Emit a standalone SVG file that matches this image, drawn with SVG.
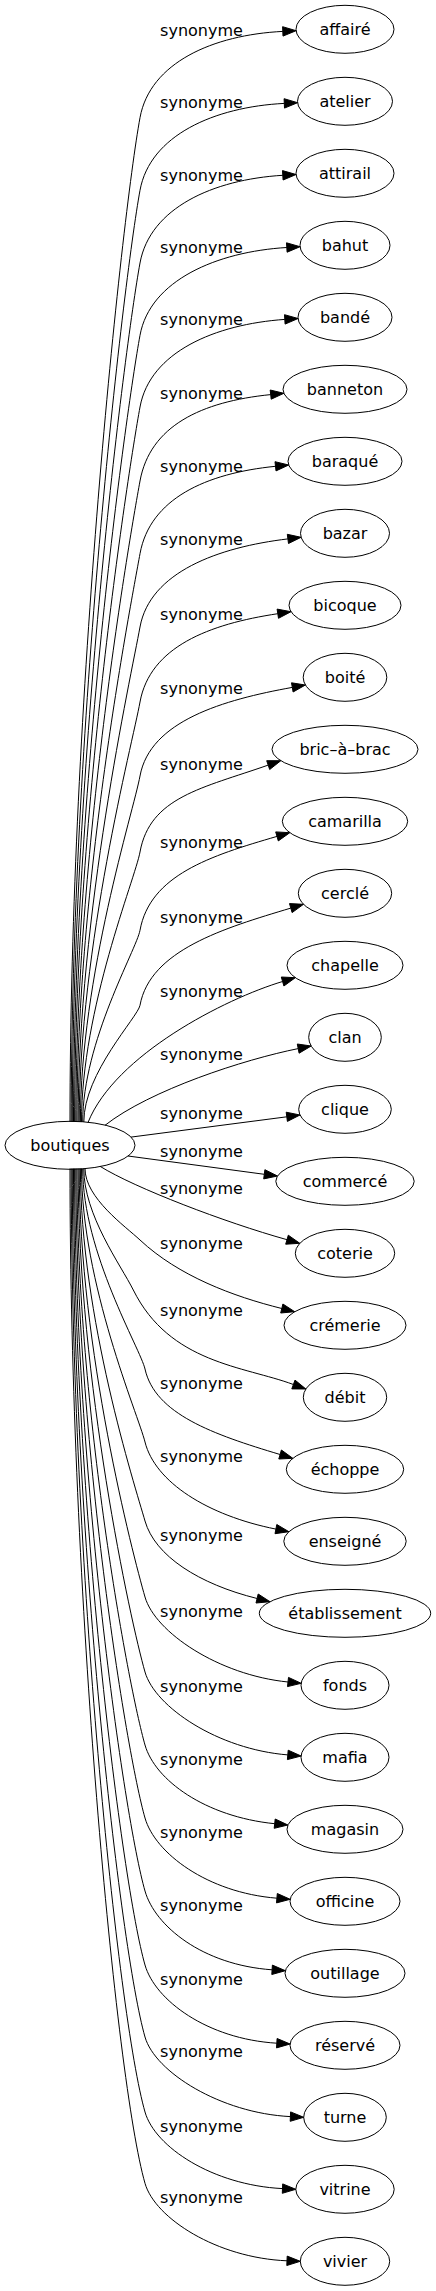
<svg xmlns="http://www.w3.org/2000/svg" width="436" height="2291" viewBox="0 0 436 2291">
<style>
text{font-family:"DejaVu Sans",Verdana,sans-serif;font-size:16px;fill:#000;text-anchor:middle}
.n ellipse{fill:none;stroke:#000;stroke-width:1}
.e path{fill:none;stroke:#000;stroke-width:1}
.e polygon{fill:#000;stroke:#000;stroke-width:1}
</style>
<rect width="436" height="2291" fill="#fff"/>
<g id="edges" class="e">
<g id="e0"><path d="M70,1122 C70,700.2 121.7,218.1 140,117.7 C150,62.7 212.9,34.9 282.8,31.4"/><polygon points="283,36.1 296.1,30.7 282.6,26.7"/><text x="201.5" y="35.7">synonyme</text></g>
<g id="e1"><path d="M71.2,1122 C71.2,730.7 123.1,283.5 140,190.3 C150,135.3 214.4,106.9 284.3,103.4"/><polygon points="284.5,108.1 297.6,102.7 284.1,98.7"/><text x="201.5" y="108.3">synonyme</text></g>
<g id="e2"><path d="M72.3,1122 C72.3,761.2 124.4,348.9 140,263 C150,208 212.9,179.5 282.8,175.3"/><polygon points="283.1,180 296.1,174.5 282.5,170.6"/><text x="201.5" y="181">synonyme</text></g>
<g id="e3"><path d="M73.5,1122 C73.5,791.6 125.7,414 140,335.3 C150,280.3 216.9,251.7 286.8,247.5"/><polygon points="287.1,252.2 300.1,246.7 286.5,242.8"/><text x="201.5" y="253.3">synonyme</text></g>
<g id="e4"><path d="M74.6,1122 C74.6,821.7 127,478.5 140,407 C150,352 215,324.3 284.8,319.4"/><polygon points="285.1,324.1 298.1,318.5 284.5,314.7"/><text x="201.5" y="325">synonyme</text></g>
<g id="e5"><path d="M75.8,1122 C75.8,852.8 128.3,545.1 140,481 C150,426 201,401.6 270.7,394.6"/><polygon points="271.2,399.2 283.9,393.3 270.2,390"/><text x="201.5" y="399">synonyme</text></g>
<g id="e6"><path d="M76.9,1122 C76.9,883.3 129.7,610.5 140,553.7 C150,498.7 205.8,473.3 275.5,466.3"/><polygon points="276,470.9 288.7,465 275,461.7"/><text x="201.5" y="471.7">synonyme</text></g>
<g id="e7"><path d="M78.1,1122 C78.1,914.1 131,676.5 140,627 C150,572 218.4,547.2 287.9,538.9"/><polygon points="288.5,543.5 301.1,537.3 287.3,534.3"/><text x="201.5" y="545">synonyme</text></g>
<g id="e8"><path d="M79.2,1122 C79.2,945.6 132.4,744 140,702 C150,647 208.6,624.1 277.8,613.7"/><polygon points="278.5,618.3 291,611.7 277.1,609.1"/><text x="201.5" y="620">synonyme</text></g>
<g id="e9"><path d="M80.4,1122 C80.4,976.7 133.7,810.6 140,776 C150,721 223.4,699.8 292.3,687.4"/><polygon points="293.1,692 305.4,685 291.5,682.8"/><text x="201.5" y="694">synonyme</text></g>
<g id="e10"><path d="M81.5,1122 C81.5,1008.6 135.1,879 140,852 C150,797 202.1,788.2 268.2,765.1"/><polygon points="269.7,769.5 280.8,760.7 266.7,760.7"/><text x="201.5" y="770">synonyme</text></g>
<g id="e11"><path d="M82.7,1122 C82.7,1041.5 136.5,949.5 140,930.3 C150,875.3 209.8,855.9 277,836.4"/><polygon points="278.3,840.9 289.8,832.7 275.7,831.9"/><text x="201.5" y="848.3">synonyme</text></g>
<g id="e12"><path d="M83.8,1122 C83.8,1073 137.9,1017 140,1005.3 C150,950.3 223.7,928.2 290.8,908.1"/><polygon points="292.1,912.6 303.5,904.3 289.5,903.6"/><text x="201.5" y="923.3">synonyme</text></g>
<g id="e13"><path d="M88,1122.5 C115,1055 225.1,998.7 282.6,981.5"/><polygon points="283.9,986 295.3,977.7 281.3,977"/><text x="201.5" y="997.3">synonyme</text></g>
<g id="e14"><path d="M105,1125.3 C150,1090 244.3,1059.4 298.2,1048.6"/><polygon points="299.1,1053.2 311.2,1046 297.3,1044"/><text x="201.5" y="1060">synonyme</text></g>
<g id="e15"><path d="M131,1137.1 C182.9,1130.3 234.9,1123.6 286.8,1116.8"/><polygon points="287.4,1121.4 300,1115 286.2,1112.2"/><text x="201.5" y="1119">synonyme</text></g>
<g id="e16"><path d="M128,1156 C173.4,1162.1 218.9,1168.2 264.3,1174.3"/><polygon points="263.7,1178.9 277.5,1176 264.9,1169.7"/><text x="201.5" y="1157">synonyme</text></g>
<g id="e17"><path d="M100,1166.3 C135,1188 224.4,1222.2 287,1239.7"/><polygon points="285.7,1244.2 299.8,1243.3 288.3,1235.2"/><text x="201.5" y="1194">synonyme</text></g>
<g id="e18"><path d="M85,1168.4 C85,1198 125.4,1226.3 140,1240 C178.4,1275.9 233,1296.4 281.8,1308.5"/><polygon points="280.7,1313 294.7,1311.7 282.9,1304"/><text x="201.5" y="1249">synonyme</text></g>
<g id="e19"><path d="M83.8,1168.5 C83.8,1215 120.8,1265 133.3,1290 C169.8,1363.4 243.8,1366.1 293.4,1384.5"/><polygon points="291.8,1388.9 305.9,1389 295,1380.1"/><text x="201.5" y="1316">synonyme</text></g>
<g id="e20"><path d="M82.7,1168.5 C82.7,1252.7 140.5,1349 145,1369 C155,1414 213,1434.4 280.1,1454.5"/><polygon points="278.8,1459 292.8,1458.3 281.4,1450"/><text x="201.5" y="1389">synonyme</text></g>
<g id="e21"><path d="M81.5,1168.5 C81.5,1283.4 138.2,1414.7 145,1442 C155,1482 207.3,1515.4 275.9,1529.1"/><polygon points="275,1533.7 288.9,1531.7 276.8,1524.5"/><text x="201.5" y="1462">synonyme</text></g>
<g id="e22"><path d="M80.4,1168.5 C80.4,1316.5 134.9,1485.8 145,1521 C155,1556 198.9,1584 257.1,1598.5"/><polygon points="256,1603 270,1601.7 258.2,1594"/><text x="201.5" y="1541">synonyme</text></g>
<g id="e23"><path d="M79.2,1168.5 C79.2,1348.5 132.7,1554.2 145,1597 C155,1632 218.3,1675 288,1682"/><polygon points="287.5,1686.6 301.2,1683.3 288.5,1677.4"/><text x="201.5" y="1617">synonyme</text></g>
<g id="e24"><path d="M78.1,1168.5 C78.1,1380 130.6,1621.7 145,1672 C155,1707 218,1749.3 287.8,1754.9"/><polygon points="287.4,1759.6 301.1,1756 288.2,1750.2"/><text x="201.5" y="1692">synonyme</text></g>
<g id="e25"><path d="M76.9,1168.5 C76.9,1410.6 128.5,1687.4 145,1745 C155,1780 205,1816.7 274.7,1823.7"/><polygon points="274.2,1828.3 287.9,1825 275.2,1819"/><text x="201.5" y="1765">synonyme</text></g>
<g id="e26"><path d="M75.8,1168.5 C75.8,1441.3 126.4,1753.1 145,1818 C155,1853 207.1,1892.6 276.9,1898.2"/><polygon points="276.5,1902.9 290.2,1899.3 277.3,1893.5"/><text x="201.5" y="1838">synonyme</text></g>
<g id="e27"><path d="M74.6,1168.5 C74.6,1472 124.3,1818.8 145,1891 C155,1926 202.3,1964.9 272.1,1969.8"/><polygon points="271.8,1974.5 285.4,1970.7 272.4,1965.1"/><text x="201.5" y="1911">synonyme</text></g>
<g id="e28"><path d="M73.5,1168.5 C73.5,1503 122.2,1885.4 145,1965 C155,2000 206.9,2039 276.8,2043.2"/><polygon points="276.5,2047.9 290.1,2044 277.1,2038.5"/><text x="201.5" y="1985">synonyme</text></g>
<g id="e29"><path d="M72.3,1168.5 C72.3,1533.3 120.2,1950.2 145,2037 C155,2072 220.5,2113.1 290.4,2116.6"/><polygon points="290.2,2121.3 303.7,2117.3 290.6,2111.9"/><text x="201.5" y="2057">synonyme</text></g>
<g id="e30"><path d="M71.2,1168.5 C71.2,1564.8 118,2017.7 145,2112 C155,2147 212.6,2185.1 282.5,2188.6"/><polygon points="282.3,2193.3 295.8,2189.3 282.7,2183.9"/><text x="201.5" y="2132">synonyme</text></g>
<g id="e31"><path d="M70,1168.5 C70,1594.7 116,2081.8 145,2183.3 C155,2218.3 217.1,2258 287,2260.8"/><polygon points="286.8,2265.5 300.3,2261.3 287.2,2256.1"/><text x="201.5" y="2203.3">synonyme</text></g>
</g>
<g id="boutiques" class="n"><ellipse cx="70" cy="1145.3" rx="65" ry="24"/><text x="70" y="1150.9">boutiques</text></g>
<g id="n0" class="n"><ellipse cx="345" cy="29.3" rx="49" ry="24"/><text x="345" y="34.9">affairé</text></g>
<g id="n1" class="n"><ellipse cx="345" cy="101.3" rx="47.5" ry="24"/><text x="345" y="106.9">atelier</text></g>
<g id="n2" class="n"><ellipse cx="345" cy="173.3" rx="49" ry="24"/><text x="345" y="178.9">attirail</text></g>
<g id="n3" class="n"><ellipse cx="345" cy="245.3" rx="45" ry="24"/><text x="345" y="250.9">bahut</text></g>
<g id="n4" class="n"><ellipse cx="345" cy="317.3" rx="47" ry="24"/><text x="345" y="322.9">bandé</text></g>
<g id="n5" class="n"><ellipse cx="345" cy="389.3" rx="62" ry="24"/><text x="345" y="394.9">banneton</text></g>
<g id="n6" class="n"><ellipse cx="345" cy="461.3" rx="57" ry="24"/><text x="345" y="466.9">baraqué</text></g>
<g id="n7" class="n"><ellipse cx="345" cy="533.3" rx="44.5" ry="24"/><text x="345" y="538.9">bazar</text></g>
<g id="n8" class="n"><ellipse cx="345" cy="605.3" rx="56" ry="24"/><text x="345" y="610.9">bicoque</text></g>
<g id="n9" class="n"><ellipse cx="345" cy="677.3" rx="41.8" ry="24"/><text x="345" y="682.9">boité</text></g>
<g id="n10" class="n"><ellipse cx="345" cy="749.3" rx="73" ry="24"/><text x="345" y="754.9">bric–à–brac</text></g>
<g id="n11" class="n"><ellipse cx="345" cy="821.3" rx="62.7" ry="24"/><text x="345" y="826.9">camarilla</text></g>
<g id="n12" class="n"><ellipse cx="345" cy="893.3" rx="46.7" ry="24"/><text x="345" y="898.9">cerclé</text></g>
<g id="n13" class="n"><ellipse cx="345" cy="965.3" rx="58" ry="24"/><text x="345" y="970.9">chapelle</text></g>
<g id="n14" class="n"><ellipse cx="345" cy="1037.3" rx="36.3" ry="24"/><text x="345" y="1042.9">clan</text></g>
<g id="n15" class="n"><ellipse cx="345" cy="1109.3" rx="46.3" ry="24"/><text x="345" y="1114.9">clique</text></g>
<g id="n16" class="n"><ellipse cx="345" cy="1181.3" rx="69.2" ry="24"/><text x="345" y="1186.9">commercé</text></g>
<g id="n17" class="n"><ellipse cx="345" cy="1253.3" rx="49.7" ry="24"/><text x="345" y="1258.9">coterie</text></g>
<g id="n18" class="n"><ellipse cx="345" cy="1325.3" rx="61" ry="24"/><text x="345" y="1330.9">crémerie</text></g>
<g id="n19" class="n"><ellipse cx="345" cy="1397.3" rx="41.7" ry="24"/><text x="345" y="1402.9">débit</text></g>
<g id="n20" class="n"><ellipse cx="345" cy="1469.3" rx="58.7" ry="24"/><text x="345" y="1474.9">échoppe</text></g>
<g id="n21" class="n"><ellipse cx="345" cy="1541.3" rx="61.2" ry="24"/><text x="345" y="1546.9">enseigné</text></g>
<g id="n22" class="n"><ellipse cx="345" cy="1613.3" rx="85.7" ry="24"/><text x="345" y="1618.9">établissement</text></g>
<g id="n23" class="n"><ellipse cx="345" cy="1685.3" rx="44" ry="24"/><text x="345" y="1690.9">fonds</text></g>
<g id="n24" class="n"><ellipse cx="345" cy="1757.3" rx="44" ry="24"/><text x="345" y="1762.9">mafia</text></g>
<g id="n25" class="n"><ellipse cx="345" cy="1829.3" rx="58" ry="24"/><text x="345" y="1834.9">magasin</text></g>
<g id="n26" class="n"><ellipse cx="345" cy="1901.3" rx="55" ry="24"/><text x="345" y="1906.9">officine</text></g>
<g id="n27" class="n"><ellipse cx="345" cy="1973.3" rx="60" ry="24"/><text x="345" y="1978.9">outillage</text></g>
<g id="n28" class="n"><ellipse cx="345" cy="2045.3" rx="55" ry="24"/><text x="345" y="2050.9">réservé</text></g>
<g id="n29" class="n"><ellipse cx="345" cy="2117.3" rx="41.3" ry="24"/><text x="345" y="2122.9">turne</text></g>
<g id="n30" class="n"><ellipse cx="345" cy="2189.3" rx="49.2" ry="24"/><text x="345" y="2194.9">vitrine</text></g>
<g id="n31" class="n"><ellipse cx="345" cy="2261.3" rx="44.7" ry="24"/><text x="345" y="2266.9">vivier</text></g>
</svg>
